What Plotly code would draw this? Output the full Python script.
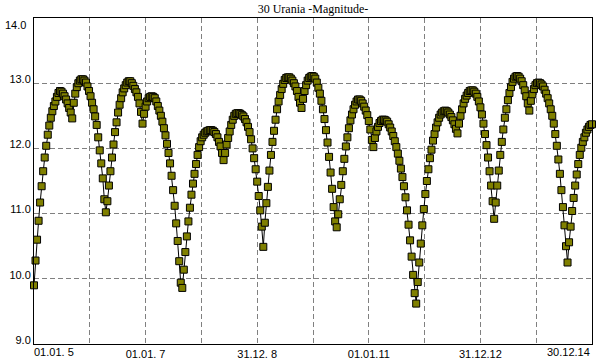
import pandas as pd
import plotly.graph_objects as go

# ---- data (magnitude every 10 days from 01.01.2005) ----
start_date = "2005-01-01"
step_days = 10

mag_part1 = [9.90, 10.28, 10.60, 10.89, 11.17, 11.42, 11.65, 11.86, 12.04, 12.21, 12.35, 12.47, 12.57, 12.65, 12.72, 12.79, 12.85, 12.88,
             12.87, 12.84, 12.80, 12.75, 12.69, 12.62, 12.55, 12.46, 12.70, 12.84, 12.94, 13.00, 13.04, 13.06,
             13.06,
             13.04, 13.01, 12.95, 12.88, 12.80, 12.70, 12.60, 12.49, 12.36, 12.17, 11.97, 11.77, 11.54, 11.22, 11.02]
mag_part2 = [11.19, 11.43, 11.65, 11.86, 12.06, 12.25, 12.40, 12.55, 12.67, 12.77, 12.86, 12.92, 12.97, 13.01, 13.03, 13.03,
             13.00, 12.96, 12.91, 12.86, 12.79, 12.69, 12.56, 12.38,
             12.53, 12.64, 12.72, 12.77, 12.79, 12.80, 12.79, 12.77,
             12.72, 12.65, 12.58, 12.50, 12.41, 12.31, 12.20, 12.07, 11.93, 11.77, 11.58, 11.36, 11.12, 10.85, 10.58, 10.27, 9.94, 9.86]
mag_part3 = [10.14, 10.41, 10.65, 10.88, 11.09, 11.29, 11.46, 11.61, 11.76, 11.90, 12.02, 12.11, 12.17, 12.21, 12.24, 12.26, 12.27, 12.28, 12.28, 12.27, 12.25, 12.22, 12.17, 12.10,
             12.03, 11.93, 11.82,
             11.93, 12.06, 12.16, 12.26, 12.36, 12.44, 12.50, 12.53, 12.54, 12.54, 12.53, 12.51,
             12.49, 12.45, 12.40, 12.33, 12.25, 12.14, 12.00, 11.85, 11.68, 11.49, 11.27, 11.05, 10.80, 10.49]
mag_part4 = [10.86, 11.16, 11.41, 11.66, 11.90, 12.10, 12.27, 12.44, 12.60, 12.72, 12.82, 12.91, 12.99, 13.05, 13.08, 13.09, 13.09, 13.07,
             13.04, 13.00, 12.95, 12.88, 12.79, 12.70, 12.62,
             12.76, 12.88, 12.97, 13.04, 13.08, 13.10, 13.11, 13.10,
             13.07, 13.01, 12.93, 12.84, 12.73, 12.60, 12.45, 12.28, 12.09, 11.87, 11.63, 11.38, 11.10, 10.88, 10.79]
mag_part5 = [10.99, 11.22, 11.44, 11.65, 11.84, 12.03, 12.17, 12.31, 12.43, 12.52, 12.60, 12.67, 12.72, 12.75, 12.75, 12.73,
             12.69, 12.64, 12.58, 12.51, 12.42, 12.29, 12.13, 12.02,
             12.16, 12.26, 12.33, 12.39, 12.42, 12.44, 12.44, 12.43,
             12.41, 12.37, 12.32, 12.26, 12.19, 12.11, 12.02, 11.92, 11.81, 11.69, 11.56, 11.42, 11.25, 11.05, 10.83, 10.59, 10.34, 10.06, 9.78, 9.62]
mag_part6 = [9.95, 10.25, 10.54, 10.82, 11.07, 11.30, 11.50, 11.68, 11.85, 11.98, 12.12, 12.22, 12.32, 12.40, 12.47, 12.52, 12.55, 12.57, 12.58, 12.57, 12.55,
             12.52, 12.48, 12.43, 12.37, 12.30, 12.23,
             12.38, 12.50, 12.60, 12.69, 12.76, 12.81, 12.85, 12.88, 12.89, 12.89, 12.87,
             12.84, 12.79, 12.72, 12.63, 12.52, 12.38, 12.22, 12.05, 11.86, 11.65, 11.43, 11.19, 10.92]
mag_part7 = [11.17, 11.43, 11.66, 11.90, 12.10, 12.29, 12.47, 12.60, 12.74, 12.85, 12.94, 13.02, 13.07, 13.10, 13.11, 13.10, 13.07,
             13.03, 12.97, 12.89, 12.80, 12.69, 12.58,
             12.73, 12.83, 12.91, 12.97, 13.00, 13.01, 13.00, 12.98,
             12.95, 12.90, 12.84, 12.77, 12.69, 12.60, 12.50, 12.38, 12.22, 12.04, 11.83, 11.61, 11.36, 11.10, 10.82, 10.50, 10.25,
             10.56, 10.80, 11.04, 11.24, 11.43, 11.60, 11.76, 11.90, 12.01, 12.10, 12.17, 12.24, 12.29, 12.33, 12.36, 12.37]

magnitude = mag_part1 + mag_part2 + mag_part3 + mag_part4 + mag_part5 + mag_part6 + mag_part7
dates = pd.date_range(start=start_date, periods=len(magnitude), freq=f"{step_days}D")

# axis ticks
grid_step_days = 365
x_grid = [pd.Timestamp(start_date) + pd.Timedelta(days=grid_step_days * i) for i in range(11)]
x_labels = ["01.01. 5", "", "01.01. 7", "", "31.12. 8", "", "01.01.11", "", "31.12.12", "", "30.12.14"]
y_ticks = [9, 10, 11, 12, 13, 14]
y_labels = ["9.0", "10.0", "11.0", "12.0", "13.0", "14.0"]
title_text = "30 Urania -Magnitude-"

font_sans = "Liberation Sans, Arial, sans-serif"
font_serif = "Liberation Serif, Times New Roman, serif"

fig = go.Figure()
fig.add_trace(go.Scatter(
    x=dates, y=magnitude, mode="lines+markers",
    line=dict(color="black", width=1),
    marker=dict(symbol="square", size=7, color="#808000", line=dict(color="black", width=1)),
    cliponaxis=False, showlegend=False, hoverinfo="skip",
))

inner_x_text = [t if 0 < i < len(x_labels) - 1 else "" for i, t in enumerate(x_labels)]
inner_y_text = [t if v != 14 else "" for v, t in zip(y_ticks, y_labels)]

fig.update_xaxes(
    type="date", range=[x_grid[0], dates[-1]],
    tickmode="array", tickvals=x_grid, ticktext=inner_x_text,
    showgrid=True, gridcolor="#808080", griddash="5px,3px", gridwidth=1,
    showline=True, linecolor="black", linewidth=1, mirror=True,
    ticks="", zeroline=False, automargin=False,
    tickfont=dict(family=font_sans, size=11, color="black"),
)
fig.update_yaxes(
    range=[9, 14], tickmode="array", tickvals=y_ticks, ticktext=inner_y_text,
    showgrid=True, gridcolor="#808080", griddash="5px,3px", gridwidth=1,
    showline=True, linecolor="black", linewidth=1, mirror=True,
    ticks="", zeroline=False, ticklabelshift=-4, automargin=False,
    tickfont=dict(family=font_sans, size=11, color="black"),
)

# edge labels (shifted inwards like in the original)
fig.add_annotation(x=x_grid[0], y=0, xref="x", yref="paper", text=x_labels[0], showarrow=False,
                   xanchor="left", yanchor="top", yshift=0, xshift=-2, font=dict(family=font_sans, size=11, color="black"))
fig.add_annotation(x=1, y=0, xref="paper", yref="paper", text=x_labels[-1], showarrow=False,
                   xanchor="right", yanchor="top", yshift=0, font=dict(family=font_sans, size=11, color="black"))
fig.add_annotation(x=0, y=14, xref="paper", yref="y", text=y_labels[-1], showarrow=False,
                   xanchor="right", yanchor="middle", xshift=-6, yshift=-7,
                   font=dict(family=font_sans, size=11, color="black"))

fig.update_layout(
    width=600, height=360,
    margin=dict(l=34, r=8, t=18, b=16, autoexpand=False),
    paper_bgcolor="white", plot_bgcolor="white",
    title=dict(text=title_text, x=0.5, xref="paper", y=1 - 9 / 360, yref="container",
               xanchor="center", yanchor="middle", automargin=False,
               font=dict(family=font_serif, size=12, color="black")),
)

fig.write_html("out.html", config={"displayModeBar": False, "staticPlot": True},
               post_script="document.body.style.margin='0px';")
